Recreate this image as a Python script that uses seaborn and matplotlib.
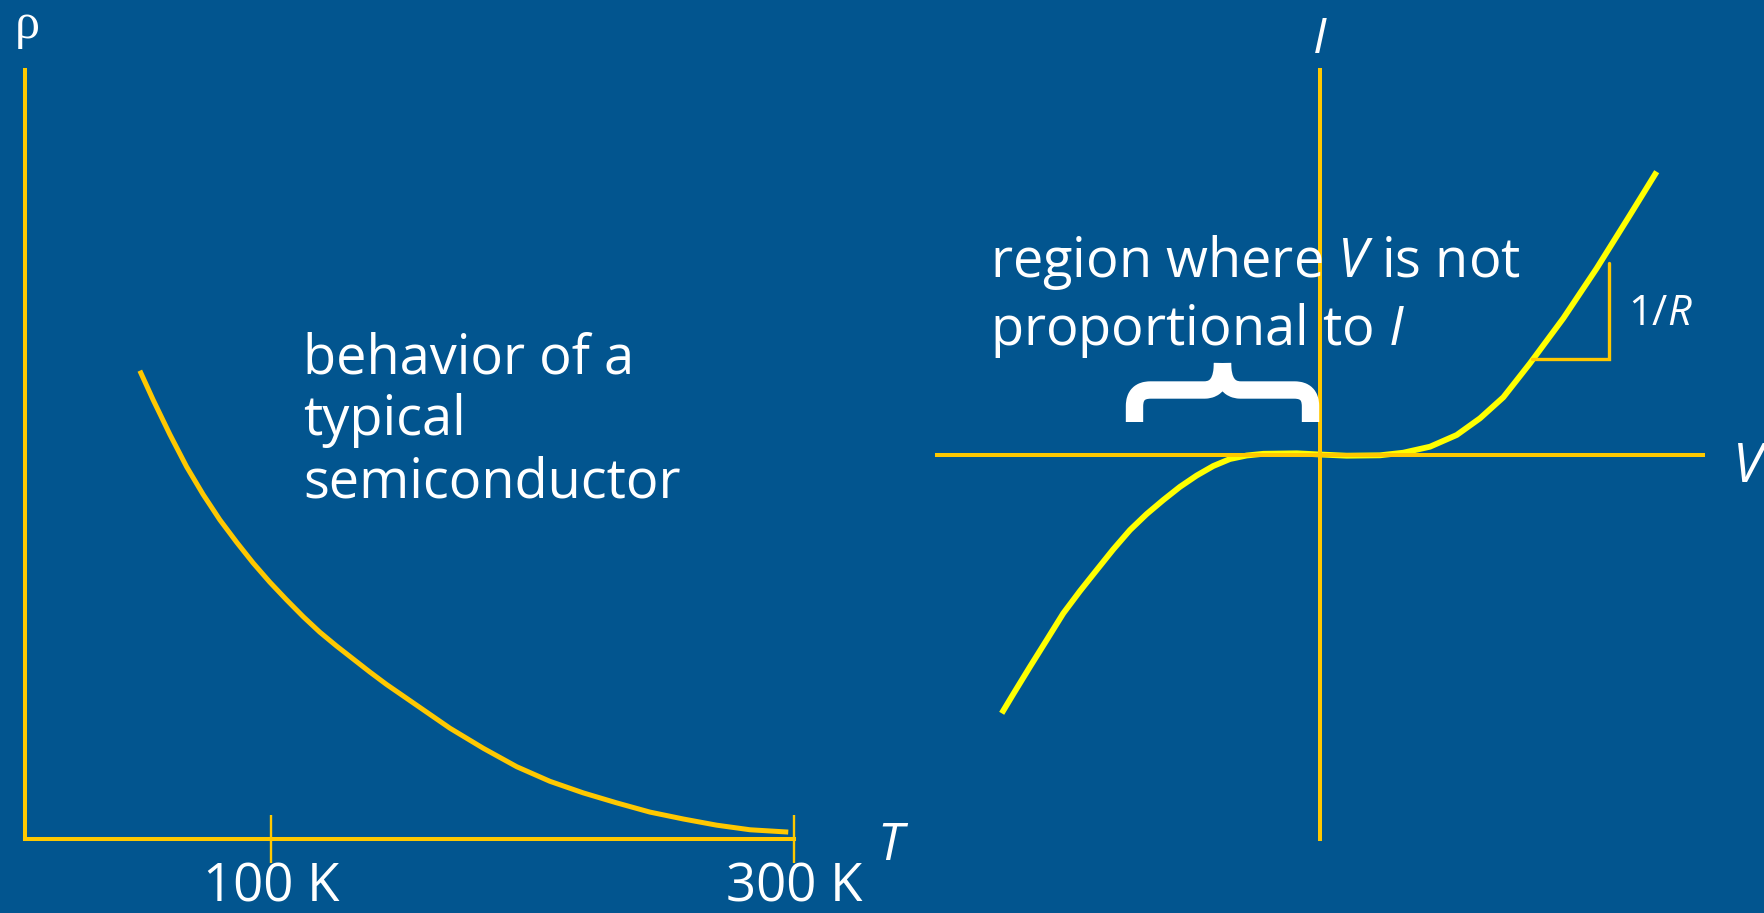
import matplotlib
matplotlib.use("Agg")
import matplotlib.pyplot as plt
from matplotlib.path import Path
from matplotlib.patches import PathPatch
import seaborn as sns

# colours
BG = '#02558f'
GOLD = '#ffc800'
YELLOW = '#ffff00'

# left panel: resistivity of a semiconductor against temperature (arbitrary rho units)
temp_K = [49.9, 55.0, 61.4, 67.8, 74.1, 80.5, 86.9, 93.2, 99.6, 106.0, 112.4, 118.7,
          125.1, 131.5, 137.9, 144.2, 150.6, 168.5, 181.2, 194.0, 206.7, 219.4,
          232.2, 244.9, 257.7, 270.4, 283.2, 297.8]
rho = [0.609, 0.571, 0.526, 0.484, 0.448, 0.415, 0.386, 0.359, 0.334, 0.311, 0.289, 0.269,
       0.251, 0.234, 0.217, 0.201, 0.186, 0.144, 0.118, 0.094, 0.075, 0.060,
       0.047, 0.035, 0.026, 0.018, 0.012, 0.009]
temp_ticks = [100, 300]
temp_tick_labels = ['100 K', '300 K']

# right panel: current-voltage curve (arbitrary units)
volt = [-3.183, -3.067, -2.90, -2.733, -2.567, -2.40, -2.233, -2.067, -1.90, -1.733,
        -1.567, -1.40, -1.233, -1.067, -0.90, -0.733, -0.567, -0.233, 0.0, 0.267, 0.60,
        0.833, 1.10, 1.367, 1.60, 1.833, 2.10, 2.433, 2.767, 3.10, 3.367]
curr = [-2.583, -2.39, -2.117, -1.85, -1.583, -1.36, -1.15, -0.943, -0.75, -0.59,
        -0.45, -0.318, -0.205, -0.11, -0.04, -0.005, 0.012, 0.017, 0.005, -0.007, -0.003,
        0.023, 0.083, 0.20, 0.367, 0.577, 0.917, 1.367, 1.867, 2.40, 2.833]
# slope triangle 1/R
tri_V = [2.12, 2.89, 2.89]
tri_I = [0.957, 0.957, 1.917]
# span of the flat region marked with the brace
flat_V = [-1.855, -0.095]

sns.set_theme(style='white', rc={'axes.facecolor': BG, 'figure.facecolor': BG})
plt.rcParams['font.family'] = ['Open Sans', 'DejaVu Sans']
plt.rcParams['mathtext.fontset'] = 'custom'
plt.rcParams['mathtext.rm'] = 'Open Sans'
plt.rcParams['mathtext.it'] = 'Open Sans:italic'

W, H = 1765, 913
fig = plt.figure(figsize=(W / 100, H / 100), dpi=100, facecolor=BG)


def px_text(x, y, s, **kw):
    # place text by pixel position (from top-left)
    fig.text(x / W, 1 - y / H, s, color='white', **kw)


# ---- left panel
ax1 = fig.add_axes([25 / W, (H - 839) / H, (794 - 25) / W, (839 - 70) / H])
sns.lineplot(x=temp_K, y=rho, ax=ax1, color=GOLD, linewidth=3.6, solid_capstyle='butt')
ax1.set_xlim(6, 300)
ax1.set_ylim(0, 1)
for side in ['top', 'right']:
    ax1.spines[side].set_visible(False)
for side in ['left', 'bottom']:
    ax1.spines[side].set_color(GOLD)
    ax1.spines[side].set_linewidth(2.9)
ax1.set_yticks([])
ax1.set_xticks(temp_ticks, labels=temp_tick_labels)
ax1.tick_params(axis='x', direction='inout', length=34.5, width=1.7, color=GOLD,
                labelcolor='white', labelsize=38, pad=-1.5, bottom=True)
ax1.set_xlabel('')
ax1.set_ylabel('')

px_text(27, 38, 'ρ', family='Liberation Serif', fontsize=36, ha='center', va='baseline')
px_text(890, 860, 'T', style='italic', fontsize=37, ha='center', va='baseline')

for i, line in enumerate(['behavior of a', 'typical', 'semiconductor']):
    px_text(303, 373 + 62 * i, line, fontsize=39, ha='left', va='baseline')

# ---- right panel
ax2 = fig.add_axes([937 / W, (H - 839) / H, (1703 - 937) / W, (839 - 70) / H])
sns.lineplot(x=volt, y=curr, ax=ax2, color=YELLOW, linewidth=4.2, solid_capstyle='butt')
ax2.plot(tri_V, tri_I, color=GOLD, linewidth=2.4, solid_joinstyle='miter')
ax2.set_xlim(-3.83, 3.83)
ax2.set_ylim(-3.84, 3.85)
for side in ['top', 'right']:
    ax2.spines[side].set_visible(False)
for side in ['left', 'bottom']:
    ax2.spines[side].set_position(('data', 0))
    ax2.spines[side].set_color(GOLD)
    ax2.spines[side].set_linewidth(2.9)
ax2.set_xticks([])
ax2.set_yticks([])
ax2.set_xlabel('')
ax2.set_ylabel('')

# curly brace over the flat part of the curve, drawn as two halves meeting at the tip
a, b = flat_V
m = (a + b) / 2
leg, bar, tip = 0.33, 0.65, 0.92
for end, s in [(a, 1), (b, -1)]:
    verts = [(end, leg), (end, bar - 0.16), (end, bar), (end + s * 0.16, bar),
             (m - s * 0.18, bar), (m, bar), (m, tip)]
    codes = [Path.MOVETO, Path.LINETO, Path.CURVE3, Path.CURVE3,
             Path.LINETO, Path.CURVE3, Path.CURVE3]
    ax2.add_patch(PathPatch(Path(verts, codes), facecolor='none', edgecolor='white',
                            linewidth=12.5, capstyle='butt', joinstyle='round', zorder=4))

px_text(1320, 53, 'I', style='italic', fontsize=36, ha='center', va='baseline')
px_text(1748, 482, 'V', style='italic', fontsize=39, ha='center', va='baseline')
px_text(1628, 325, '1/$R$', fontsize=30, ha='left', va='baseline')
px_text(990, 277, 'region where $V$ is not', fontsize=39, ha='left', va='baseline')
px_text(990, 345, 'proportional to $I$', fontsize=39, ha='left', va='baseline')

fig.savefig('out.png', dpi=100, facecolor=BG)
